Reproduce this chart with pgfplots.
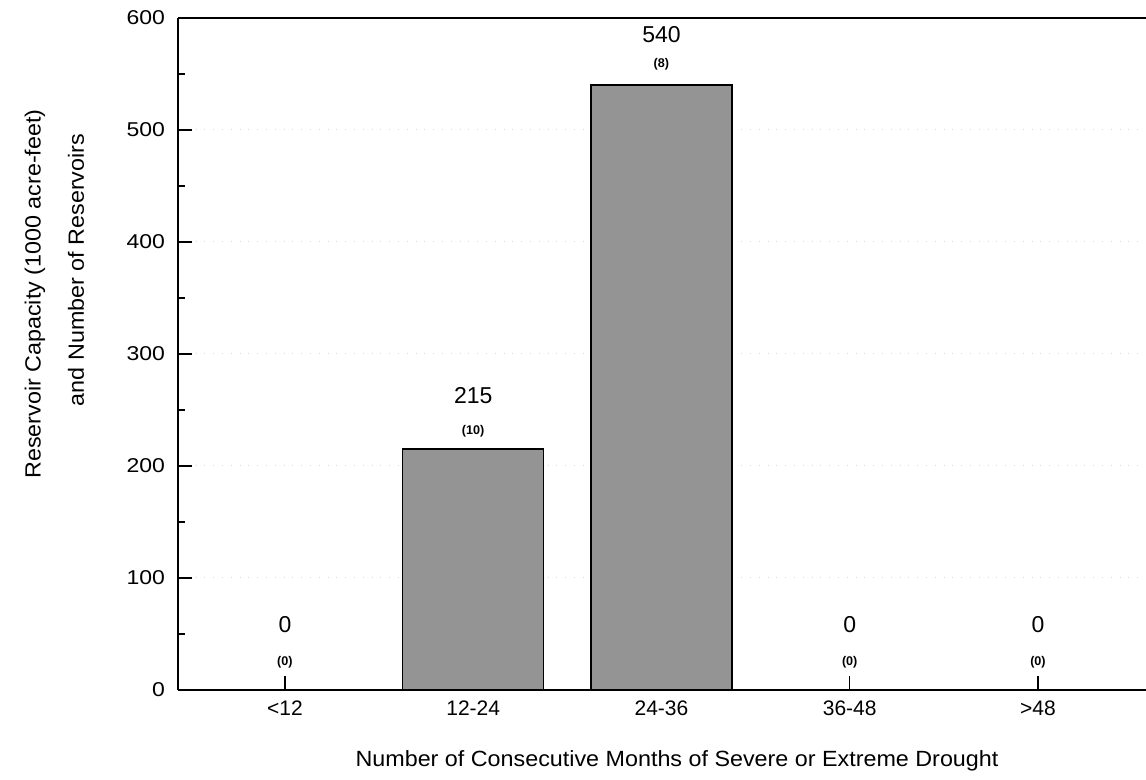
\documentclass[border=0pt]{standalone}
\usepackage{fontspec}
\setmainfont{Liberation Sans}
\newfontfamily\widefont[FakeStretch=1.15]{Liberation Sans}
\newfontfamily\labfont[FakeStretch=1.06]{Liberation Sans}
\usepackage{pgfplots}
\pgfplotsset{compat=1.18}
\definecolor{barfill}{RGB}{148,148,148}
\pgfplotstableread{
x y lab
0 50.9 0
1 255.4 215
2 577.7 540
3 50.9 0
4 50.9 0
}\valuelabels
\pgfplotstableread{
x y lab
0 22.3 (0)
1 227.7 (10)
2 556 (8)
3 22.3 (0)
4 22.3 (0)
}\countlabels
\begin{document}
\begin{tikzpicture}[x=1pt,y=1pt]
\useasboundingbox (0,0) rectangle (573,390);
\begin{axis}[
  at={(89pt,45pt)}, anchor=south west, scale only axis,
  width=484pt, height=336pt,
  xmin=-0.568, xmax=4.574, ymin=0, ymax=600,
  axis x line*=box, axis y line*=left,
  axis line style={line width=0.8pt},
  xtick={0,...,4}, xticklabels={<12,12-24,24-36,36-48,>48},
  xtick pos=bottom,
  ytick={0,100,...,600}, minor y tick num=1,
  tick align=inside,
  major tick length=7pt, minor tick length=3.5pt,
  tick style={line width=0.6pt, black},
  xticklabel style={font=\fontsize{10.5}{12}\selectfont, yshift=-2pt},
  yticklabel style={font=\widefont\fontsize{10}{12}\selectfont, xshift=-3pt},
  /pgf/number format/assume math mode=true,
  ymajorgrids,
  grid style={gray!30, loosely dotted, line width=0.5pt},
  clip=false,
]
\addplot[ybar, bar width=0.75, fill=barfill, draw=black, line width=0.7pt]
  coordinates {(0,0) (1,215) (2,540) (3,0) (4,0)};
\addplot[draw=none, mark=none, nodes near coords, point meta=explicit symbolic,
  nodes near coords style={anchor=base, inner sep=0pt, font=\fontsize{11.5}{13}\selectfont}]
  table[x=x, y=y, meta=lab] {\valuelabels};
\addplot[draw=none, mark=none, nodes near coords, point meta=explicit symbolic,
  nodes near coords style={anchor=base, inner sep=0pt, font=\bfseries\fontsize{6.3}{8}\selectfont}]
  table[x=x, y=y, meta=lab] {\countlabels};
\end{axis}
\node[rotate=90, inner sep=0pt, font=\labfont\fontsize{11}{13}\selectfont] at (17.5,243) {Reservoir Capacity (1000 acre-feet)};
\node[rotate=90, inner sep=0pt, font=\labfont\fontsize{11}{13}\selectfont] at (38,255) {and Number of Reservoirs};
\node[anchor=base, inner sep=0pt, font=\labfont\fontsize{11}{13}\selectfont] at (338.5,6.5) {Number of Consecutive Months of Severe or Extreme Drought};
\end{tikzpicture}
\end{document}
